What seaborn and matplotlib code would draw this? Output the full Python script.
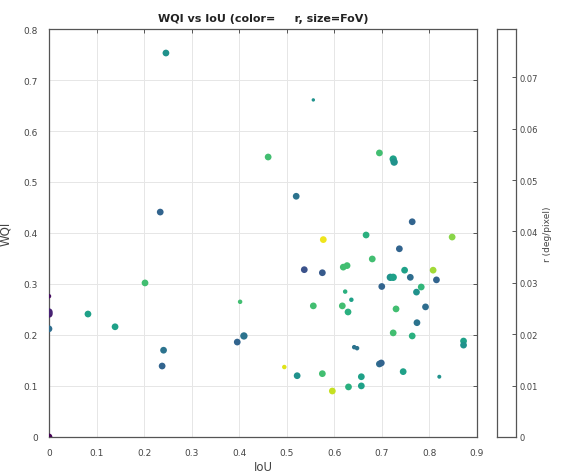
import numpy as np
import matplotlib
matplotlib.use("Agg")
import matplotlib.pyplot as plt
import seaborn as sns
import pandas as pd

# ---- data ----
iou = [0.0, 0.0, 0.0, 0.0, 0.0, 0.082, 0.139, 0.202, 0.246, 0.234,
       0.241, 0.238, 0.402, 0.410, 0.396, 0.537, 0.575, 0.577, 0.556, 0.495,
       0.522, 0.575, 0.596, 0.630, 0.619, 0.627, 0.623, 0.617, 0.629, 0.520,
       0.461, 0.556, 0.695, 0.724, 0.726, 0.764, 0.667, 0.848, 0.737, 0.680,
       0.748, 0.808, 0.718, 0.724, 0.760, 0.815, 0.700, 0.783, 0.773, 0.792,
       0.730, 0.774, 0.724, 0.764, 0.872, 0.872, 0.636, 0.642, 0.648, 0.695,
       0.699, 0.745, 0.657, 0.657, 0.821]
wqi = [0.0, 0.276, 0.241, 0.245, 0.212, 0.241, 0.216, 0.302, 0.753, 0.441,
       0.170, 0.139, 0.265, 0.198, 0.186, 0.328, 0.322, 0.387, 0.257, 0.137,
       0.120, 0.124, 0.090, 0.098, 0.333, 0.336, 0.285, 0.257, 0.245, 0.472,
       0.549, 0.661, 0.557, 0.545, 0.539, 0.422, 0.396, 0.392, 0.369, 0.349,
       0.327, 0.327, 0.313, 0.313, 0.313, 0.308, 0.295, 0.294, 0.284, 0.255,
       0.251, 0.224, 0.204, 0.198, 0.188, 0.180, 0.269, 0.176, 0.174, 0.143,
       0.145, 0.128, 0.118, 0.100, 0.118]
r_val = [0.000, 0.003, 0.006, 0.008, 0.028, 0.045, 0.045, 0.055, 0.040, 0.025,
         0.030, 0.025, 0.055, 0.030, 0.025, 0.020, 0.022, 0.077, 0.055, 0.075,
         0.040, 0.055, 0.072, 0.050, 0.055, 0.055, 0.050, 0.055, 0.050, 0.030,
         0.055, 0.040, 0.055, 0.045, 0.040, 0.025, 0.050, 0.065, 0.025, 0.055,
         0.045, 0.068, 0.040, 0.045, 0.028, 0.025, 0.025, 0.052, 0.040, 0.028,
         0.055, 0.030, 0.055, 0.050, 0.045, 0.040, 0.045, 0.030, 0.030, 0.028,
         0.025, 0.045, 0.045, 0.045, 0.040]
fov = [60, 30, 70, 70, 60, 60, 60, 60, 60, 60,
       60, 60, 30, 70, 60, 60, 60, 60, 60, 30,
       60, 60, 60, 60, 60, 60, 30, 60, 60, 60,
       60, 20, 60, 70, 70, 60, 60, 60, 60, 60,
       60, 60, 70, 70, 60, 60, 60, 60, 60, 60,
       60, 60, 60, 60, 60, 60, 30, 30, 30, 60,
       60, 60, 60, 60, 25]

x_ticks = [0, 0.1, 0.2, 0.3, 0.4, 0.5, 0.6, 0.7, 0.8, 0.9]
x_ticklabels = ['0', '0.1', '0.2', '0.3', '0.4', '0.5', '0.6', '0.7', '0.8', '0.9']
y_ticks = [0, 0.1, 0.2, 0.3, 0.4, 0.5, 0.6, 0.7, 0.8]
y_ticklabels = ['0', '0.1', '0.2', '0.3', '0.4', '0.5', '0.6', '0.7', '0.8']
cb_ticks = [0, 0.01, 0.02, 0.03, 0.04, 0.05, 0.06, 0.07]
cb_ticklabels = ['0', '0.01', '0.02', '0.03', '0.04', '0.05', '0.06', '0.07']

df = pd.DataFrame({'IoU': iou, 'WQI': wqi, 'r': r_val, 'FoV': fov})

# ---- style ----
sns.set_theme(style="white")
plt.rcParams['font.family'] = ['DejaVu Sans']
axis_col = '#555555'
text_col = '#444444'

fig = plt.figure(figsize=(5.63, 4.77), dpi=100)
ax = fig.add_axes([0.087, 0.082, 0.760, 0.855])
cax = fig.add_axes([0.883, 0.082, 0.034, 0.855])

sns.scatterplot(data=df, x='IoU', y='WQI', hue='r', size='FoV',
                palette='viridis', hue_norm=(0, 0.079),
                sizes=(6, 28), size_norm=(20, 70),
                edgecolor='none', legend=False, ax=ax, zorder=3)

ax.set_xlim(0, 0.9)
ax.set_ylim(0, 0.8)
ax.set_xticks(x_ticks)
ax.set_xticklabels(x_ticklabels)
ax.set_yticks(y_ticks)
ax.set_yticklabels(y_ticklabels)
ax.grid(True, color='#e6e6e6', linewidth=0.7, zorder=0)
ax.set_axisbelow(True)
ax.tick_params(direction='in', length=3, width=0.7, colors=axis_col,
               labelcolor=text_col, labelsize=6.5, top=True, right=True,
               pad=8)
for sp in ax.spines.values():
    sp.set_color(axis_col)
    sp.set_linewidth(0.9)
ax.set_xlabel('IoU', fontsize=8.5, color=text_col, labelpad=2)
ax.set_ylabel('WQI', fontsize=8.5, color=text_col, labelpad=8)
ax.set_title('WQI vs IoU (color=     r, size=FoV)', fontsize=8,
             fontweight='bold', color='#222222', pad=6)

# empty colorbar box like the source
cax.set_xlim(0, 1)
cax.set_ylim(0, 0.0794)
cax.set_xticks([])
cax.yaxis.tick_right()
cax.yaxis.set_label_position('right')
cax.set_yticks(cb_ticks)
cax.set_yticklabels(cb_ticklabels)
cax.tick_params(axis='y', direction='in', length=3, width=0.7, colors=axis_col,
                labelcolor=text_col, labelsize=6, pad=2)
for sp in cax.spines.values():
    sp.set_color(axis_col)
    sp.set_linewidth(0.9)
cax.set_ylabel('r (deg/pixel)', fontsize=6.5, color=text_col,
               rotation=90, labelpad=4)

fig.savefig('out.png', dpi=100)
